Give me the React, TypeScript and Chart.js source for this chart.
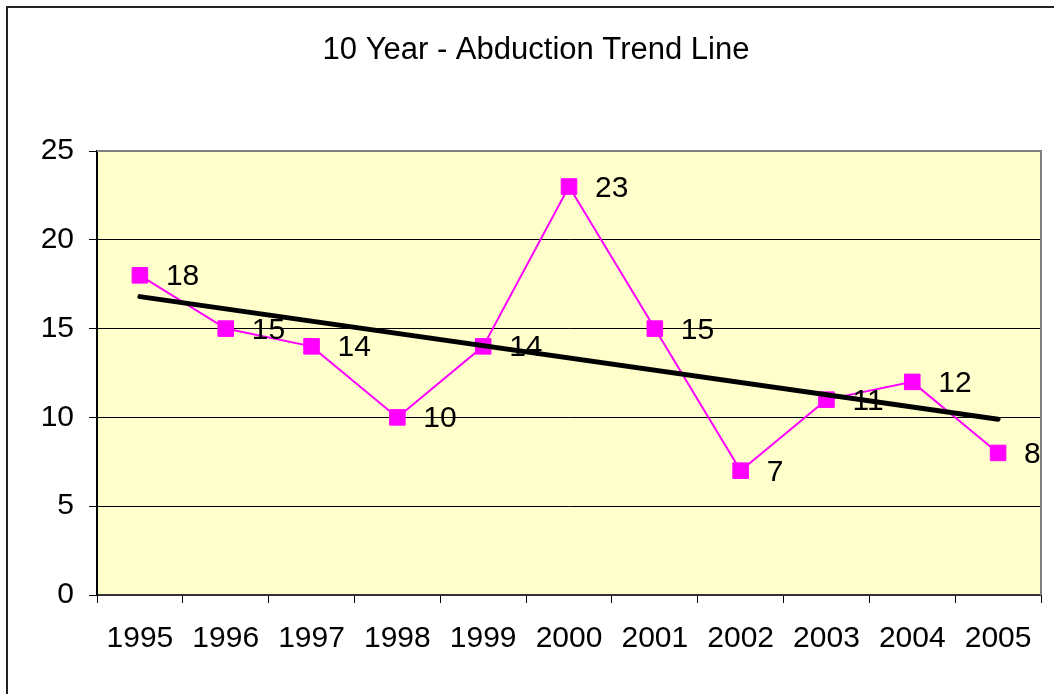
import React, { useEffect, useRef } from 'react';
import { Chart, registerables } from 'chart.js';

Chart.register(...registerables);

const titleText = '10 Year - Abduction Trend Line';
const years = ['1995', '1996', '1997', '1998', '1999', '2000', '2001', '2002', '2003', '2004', '2005'];
const abductions = [18, 15, 14, 10, 14, 23, 15, 7, 11, 12, 8];
// trend line: its value at 1995 and at 2005
const trendLine: (number | null)[] = [16.8, null, null, null, null, null, null, null, null, null, 9.9];
const yMin = 0;
const yMax = 25;
const yStep = 5;

const FONT = 'Arial, "Liberation Sans", sans-serif';

export default function App() {
  const canvasRef = useRef<HTMLCanvasElement | null>(null);

  useEffect(() => {
    const canvas = canvasRef.current;
    if (!canvas) return;

    const framePlugin = {
      id: 'framePlugin',
      beforeDraw(chart: any) {
        const { ctx, chartArea } = chart;
        ctx.save();
        ctx.fillStyle = '#ffffff';
        ctx.fillRect(0, 0, chart.width, chart.height);
        // outer chart border (left and top visible)
        ctx.strokeStyle = '#222222';
        ctx.lineWidth = 2;
        ctx.beginPath();
        ctx.moveTo(7, chart.height);
        ctx.lineTo(7, 7);
        ctx.lineTo(chart.width, 7);
        ctx.stroke();
        // plot background
        ctx.fillStyle = '#FFFFCC';
        ctx.fillRect(chartArea.left, chartArea.top, chartArea.right - chartArea.left, chartArea.bottom - chartArea.top);
        // title
        ctx.fillStyle = '#000000';
        ctx.font = `31px ${FONT}`;
        ctx.textAlign = 'center';
        ctx.textBaseline = 'alphabetic';
        ctx.fillText(titleText, 536, 59);
        ctx.restore();
      },
      afterDatasetsDraw(chart: any) {
        const { ctx } = chart;
        const meta = chart.getDatasetMeta(0);
        ctx.save();
        ctx.fillStyle = '#000000';
        ctx.font = `30px ${FONT}`;
        ctx.textAlign = 'left';
        ctx.textBaseline = 'alphabetic';
        meta.data.forEach((pt: any, i: number) => {
          ctx.fillText(String(abductions[i]), pt.x + 26, pt.y + 10);
        });
        ctx.restore();
      },
      afterDraw(chart: any) {
        const { ctx, chartArea } = chart;
        ctx.save();
        ctx.strokeStyle = '#808080';
        ctx.lineWidth = 2;
        ctx.beginPath();
        ctx.moveTo(chartArea.left, chartArea.top);
        ctx.lineTo(chartArea.right, chartArea.top);
        ctx.lineTo(chartArea.right, chartArea.bottom);
        ctx.stroke();
        ctx.restore();
      },
    };

    const chart = new Chart(canvas, {
      type: 'line',
      data: {
        labels: years,
        datasets: [
          {
            label: 'Abductions',
            data: abductions,
            borderColor: '#FF00FF',
            backgroundColor: '#FF00FF',
            borderWidth: 2,
            pointStyle: 'rect',
            pointRadius: 11,
            pointBorderWidth: 1,
            pointBackgroundColor: '#FF00FF',
            pointBorderColor: '#FF00FF',
            tension: 0,
            order: 1,
          },
          {
            label: 'Trend',
            data: trendLine,
            spanGaps: true,
            borderColor: '#000000',
            borderWidth: 5,
            borderCapStyle: 'round',
            pointRadius: 0,
            tension: 0,
            order: 0,
          },
        ],
      },
      options: {
        responsive: false,
        animation: false,
        layout: { padding: { top: 151, right: 13, left: 0, bottom: 0 } },
        plugins: {
          legend: { display: false },
          tooltip: { enabled: false },
          title: { display: false },
        },
        scales: {
          x: {
            type: 'category',
            offset: true,
            grid: {
              offset: true,
              drawOnChartArea: false,
              drawTicks: true,
              tickLength: 8,
              color: '#000000',
              lineWidth: 1,
            },
            border: { color: '#333333', width: 2 },
            ticks: {
              color: '#000000',
              font: { family: FONT, size: 30 },
              padding: 18,
              maxRotation: 0,
              autoSkip: false,
            },
            afterFit(scale: any) {
              scale.height = 99;
            },
          },
          y: {
            min: yMin,
            max: yMax,
            grid: {
              color: '#000000',
              lineWidth: 1,
              tickLength: 8,
            },
            border: { color: '#000000', width: 2 },
            ticks: {
              stepSize: yStep,
              color: '#000000',
              font: { family: FONT, size: 30 },
              padding: 15,
            },
            afterFit(scale: any) {
              scale.width = 97;
            },
          },
        },
      },
      plugins: [framePlugin],
    } as any);

    return () => {
      chart.destroy();
    };
  }, []);

  return (
    <div style={{ position: 'fixed', left: 0, top: 0, width: 1054, height: 694, background: '#fff' }}>
      <canvas ref={canvasRef} width={1054} height={694} style={{ display: 'block' }} />
    </div>
  );
}
